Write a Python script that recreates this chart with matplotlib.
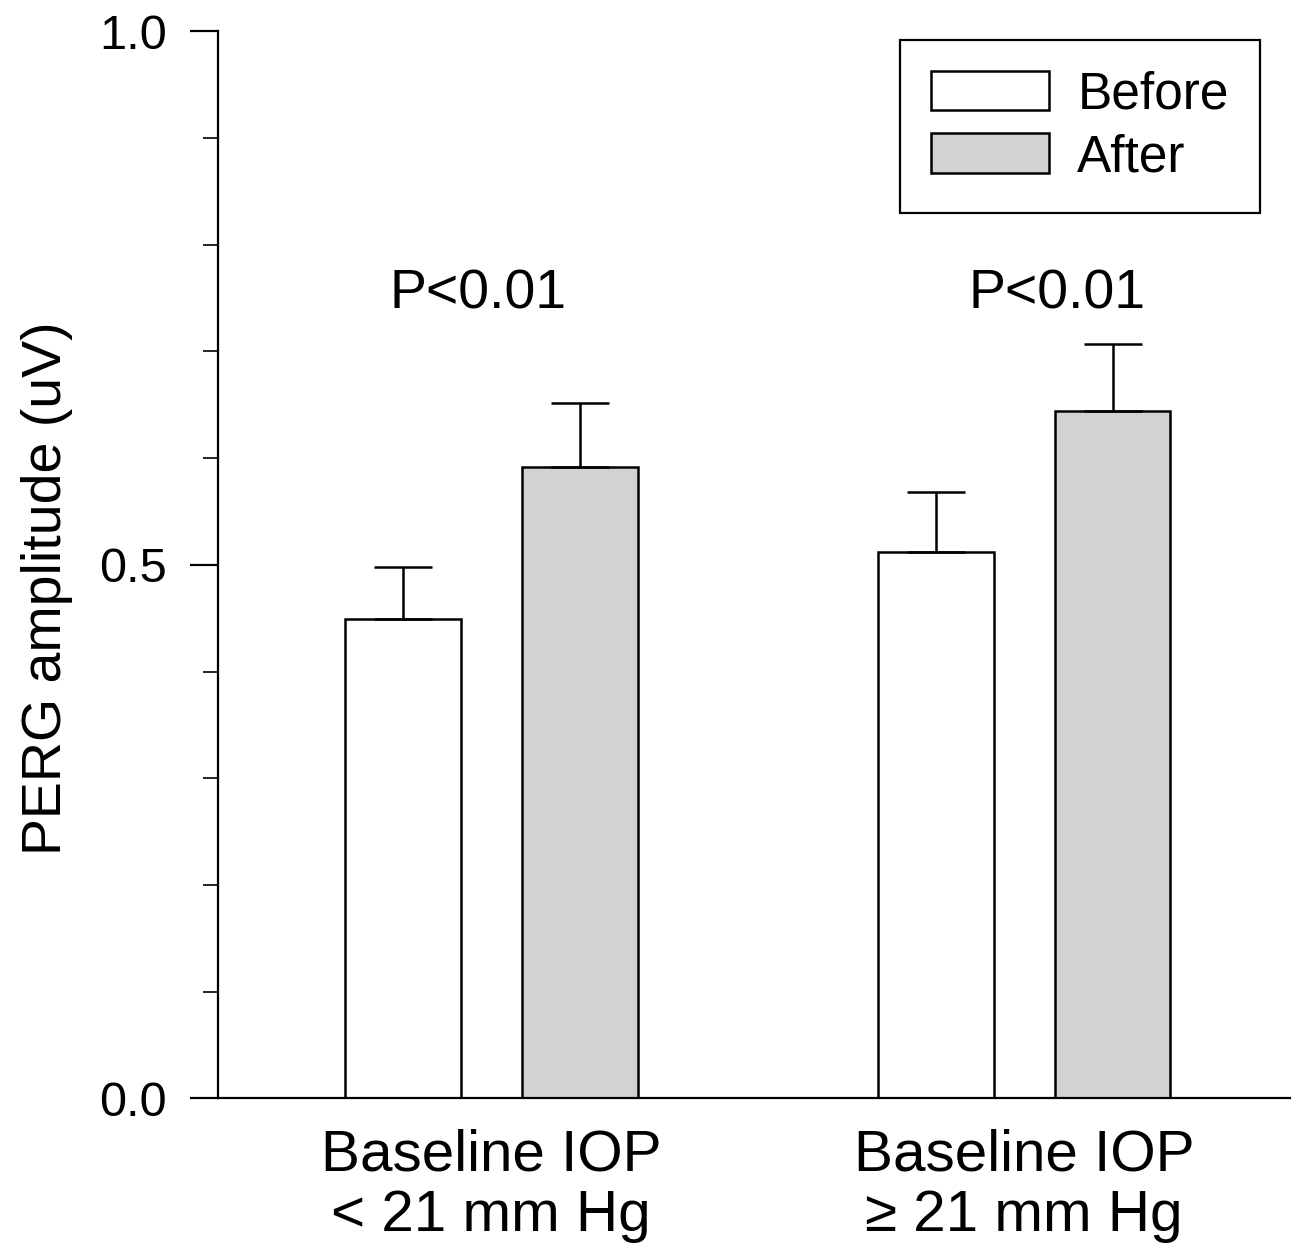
import matplotlib
matplotlib.use("Agg")
import matplotlib.pyplot as plt
import numpy as np
from matplotlib.ticker import MultipleLocator

plt.rcParams["font.family"] = ["Liberation Sans", "DejaVu Sans"]

groups = ["Baseline IOP\n< 21 mm Hg", "Baseline IOP\n\u2265 21 mm Hg"]
before = [0.449, 0.512]
after = [0.592, 0.644]
before_err = [0.049, 0.056]
after_err = [0.060, 0.063]
p_labels = ["P<0.01", "P<0.01"]

GRAY = "#d2d2d2"
x = np.arange(len(groups))
off, w = 0.166, 0.217

fig = plt.figure(figsize=(13, 12.51), dpi=100)
ax = fig.add_axes([0.168, 0.122, 0.824, 0.853])

ekw = dict(elinewidth=1.8, capthick=1.8, capsize=21, ecolor="black")
ax.bar(x - off, before, w, color="white", edgecolor="black", lw=1.8, label="Before",
       yerr=[np.zeros(len(before)), before_err], error_kw=ekw, zorder=2)
ax.bar(x + off, after, w, color=GRAY, edgecolor="black", lw=1.8, label="After",
       yerr=[np.zeros(len(after)), after_err], error_kw=ekw, zorder=2)

for xi, dx, t in zip(x, [-0.024, 0.061], p_labels):
    ax.text(xi + dx, 0.753, t, ha="center", va="center", fontsize=40)

ax.set_xlim(-0.512, 1.498)
ax.set_ylim(0, 1.0)
ax.set_yticks([0.0, 0.5, 1.0])
ax.set_yticklabels(["0.0", "0.5", "1.0"], fontsize=35)
ax.yaxis.set_minor_locator(MultipleLocator(0.1))
ax.tick_params(axis="y", which="major", length=20, width=1.6, pad=17)
ax.tick_params(axis="y", which="minor", length=11, width=1.2)
ax.set_xticks(x)
ax.set_xticklabels(groups, fontsize=42, linespacing=1.15)
ax.tick_params(axis="x", length=0, pad=22)
ax.set_ylabel("PERG amplitude (uV)", fontsize=40)
ax.yaxis.set_label_coords(-0.136, 0.478)

for s in ["top", "right"]:
    ax.spines[s].set_visible(False)
for s in ["left", "bottom"]:
    ax.spines[s].set_linewidth(1.6)

leg = ax.legend(loc="upper right", bbox_to_anchor=(0.972, 0.992), fontsize=37,
                fancybox=False, framealpha=1, edgecolor="black",
                handlelength=2.3, handleheight=0.8, handletextpad=0.55,
                borderpad=0.6, labelspacing=0.26, borderaxespad=0)
leg.get_frame().set_linewidth(1.6)

fig.savefig("out.png", dpi=100)
